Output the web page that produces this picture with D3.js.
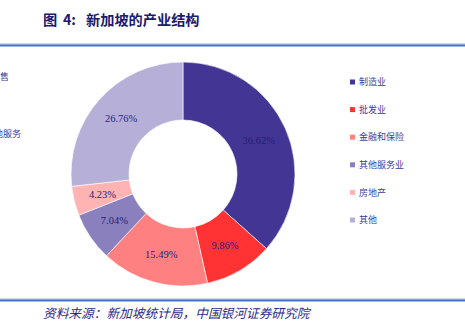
<!DOCTYPE html>
<html><head><meta charset="utf-8">
<script src="https://cdn.jsdelivr.net/npm/d3@7"></script>
<style>html,body{margin:0;padding:0;background:#fff;}svg{display:block;}text{white-space:pre;}</style>
</head><body><svg id="c" width="465" height="325"></svg>
<script>
const categories = ["制造业","批发业","金融和保险","其他服务业","房地产","其他"];
const values = [36.62, 9.86, 15.49, 7.04, 4.23, 26.76];
const colors = ["#433594","#ff3333","#ff8080","#8a80bd","#ffb3b3","#b6b0d8"];
const titleParts = ["图","4:","新加坡的产业结构"];
const source = "资料来源：新加坡统计局，中国银河证券研究院";

const svg = d3.select("#c");
const navy = "#1f1f78";

const tt = svg.append("text").attr("y",25).attr("font-family","Noto Sans CJK SC").attr("font-weight","bold")
  .attr("font-size",14.2).attr("fill","#1a1a6e");
[43,63,86].forEach((x,i)=>tt.append("tspan").attr("x",x).text(titleParts[i]));
svg.append("rect").attr("x",0).attr("y",43.5).attr("width",465).attr("height",1).attr("fill","#9ab3e0");
svg.append("rect").attr("x",0).attr("y",44.5).attr("width",465).attr("height",2).attr("fill","#4472c4");
svg.append("rect").attr("x",0).attr("y",298.5).attr("width",465).attr("height",1).attr("fill","#9ab3e0");
svg.append("rect").attr("x",0).attr("y",299.5).attr("width",465).attr("height",2).attr("fill","#4472c4");
svg.append("text").attr("x",43).attr("y",318).attr("font-family","Noto Sans CJK SC").attr("font-style","italic")
  .attr("font-size",12.7).attr("fill","#2a2a8a").text(source);

// cut-off remnants at left edge (as in the reference)
svg.append("text").attr("x",-9).attr("y",80).attr("font-family","Noto Sans CJK SC").attr("font-size",9).attr("fill","#3a3a9a").text("零售");
svg.append("text").attr("x",-15).attr("y",137).attr("font-family","Noto Sans CJK SC").attr("font-size",9).attr("fill","#3a3a9a").text("其他服务");

const cx = 183, cy = 174, rOut = 112, rIn = 54;
const pie = d3.pie().sort(null).value(d=>d.v);
const data = pie(categories.map((c,i)=>({c, v: values[i], col: colors[i]})));
const arc = d3.arc().innerRadius(rIn).outerRadius(rOut);
const g = svg.append("g").attr("transform",`translate(${cx},${cy})`);
g.selectAll("path").data(data).join("path").attr("d",arc).attr("fill",d=>d.data.col)
  .attr("stroke","#fff").attr("stroke-width",0.6);
g.selectAll("text").data(data).join("text")
  .attr("transform",d=>`translate(${arc.centroid(d)})`)
  .attr("text-anchor","middle").attr("dy","0.35em")
  .attr("font-family","Liberation Serif").attr("font-size",10.5).attr("fill",navy)
  .text(d=>d.data.v.toFixed(2)+"%");

const lg = svg.append("g");
const ly = d3.scalePoint().domain(categories).range([82,220]);
categories.forEach((c,i)=>{
  lg.append("rect").attr("x",350).attr("y",ly(c)-2.5).attr("width",5).attr("height",5).attr("fill",colors[i]);
  lg.append("text").attr("x",359).attr("y",ly(c)).attr("dy","0.35em").attr("font-family","Noto Sans CJK SC")
    .attr("font-size",9).attr("fill","#3a3a9a").text(c);
});
</script></body></html>
